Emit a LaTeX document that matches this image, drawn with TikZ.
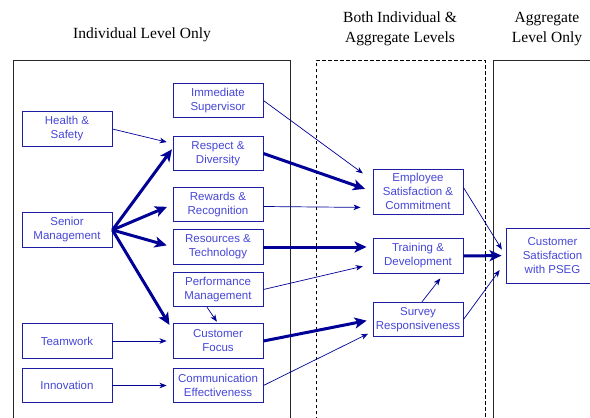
\documentclass[tikz,border=0pt]{standalone}
\usepackage{fontspec}
\setmainfont{Liberation Sans}
\newfontfamily\hdrfont{Liberation Serif}
\usetikzlibrary{arrows.meta,calc}
\definecolor{boxline}{RGB}{30,30,165}
\definecolor{boxtext}{RGB}{70,70,215}
\definecolor{arrowc}{RGB}{0,0,150}
\definecolor{framec}{RGB}{40,40,40}
\tikzset{
  factor/.style={draw=boxline, line width=0.9pt, rectangle, minimum width=90pt, minimum height=34.5pt,
    inner sep=0pt, align=center, text=boxtext, font=\fontsize{11.5}{14}\selectfont},
  header/.style={align=center, font=\hdrfont\fontsize{15.5}{19.5}\selectfont, text=black, inner sep=0pt},
  thinarrow/.style={draw=arrowc, line width=0.7pt, -{Stealth[length=7pt,width=5.5pt,inset=2pt]}},
  thickarrow/.style={draw=arrowc, line width=3pt, -{Stealth[length=12pt,width=11pt,inset=3pt]}},
  solidframe/.style={draw=framec, line width=0.8pt},
  dashframe/.style={draw=black, line width=0.8pt, dash pattern=on 3.5pt off 2.5pt}
}
\begin{document}
\begin{tikzpicture}[x=1pt,y=-1pt]
\useasboundingbox (0,0) rectangle (590,418);
% frames
\draw[solidframe] (13,420) -- (13,60) -- (290,60) -- (290,420);
\draw[dashframe] (316,420) -- (316,60) -- (485,60) -- (485,420);
\draw[solidframe] (493,420) -- (493,60) -- (592,60);
% headers
\node[header] (h1) at (142,35) {Individual Level Only};
\node[header] (h2) at (400,29) {Both Individual \&\\Aggregate Levels};
\node[header] (h3) at (547,29) {Aggregate\\Level Only};
% left column
\node[factor] (hs) at (67,129) {Health \&\\Safety};
\node[factor] (sm) at (67,230) {Senior\\Management};
\node[factor] (tw) at (67,341) {Teamwork};
\node[factor] (in) at (67,385.5) {Innovation};
% middle column
\node[factor] (is) at (218,100.5) {Immediate\\Supervisor};
\node[factor] (rd) at (218,153.5) {Respect \&\\Diversity};
\node[factor] (rr) at (218,204.5) {Rewards \&\\Recognition};
\node[factor] (rt) at (218,247) {Resources \&\\Technology};
\node[factor] (pm) at (218,289.5) {Performance\\Management};
\node[factor] (cf) at (218,341) {Customer\\Focus};
\node[factor] (ce) at (218,385.5) {Communication\\Effectiveness};
% both levels column
\node[factor, minimum height=45pt] (es) at (418,191.5) {Employee\\Satisfaction \&\\Commitment};
\node[factor] (td) at (418,256) {Training \&\\Development};
\node[factor] (sr) at (418,319.5) {Survey\\Responsiveness};
% aggregate
\node[factor, minimum width=93pt, minimum height=55pt] (cs) at (552.5,255.5) {Customer\\Satisfaction\\with PSEG};
% thin arrows
\draw[thinarrow, shorten >=6pt] (hs.east) -- ([yshift=10pt]rd.west);
\draw[thinarrow, shorten >=12pt] (is.east) -- ([yshift=11pt]es.west);
\draw[thinarrow, shorten >=12pt] ([yshift=-2pt]rr.east) -- ([yshift=-16pt]es.west);
\draw[thinarrow, shorten >=10pt] (pm.east) -- ([yshift=-8pt]td.west);
\draw[thinarrow, shorten >=2pt] ([xshift=-11pt]pm.south) -- (cf.north);
\draw[thinarrow, shorten >=6pt] (tw.east) -- (cf.west);
\draw[thinarrow, shorten >=6pt] (in.east) -- (ce.west);
\draw[thinarrow, shorten >=5pt] (ce.east) -- ([yshift=-12pt]sr.west);
\draw[thinarrow, shorten >=7pt] ([yshift=4pt]es.east) -- (cs.west);
\draw[thinarrow, shorten >=10pt] (sr.east) -- ([yshift=-6.5pt]cs.west);
\draw[thinarrow, shorten >=6pt] ([xshift=4pt]sr.north) -- ([xshift=26pt]td.south);
% thick arrows
\draw[thickarrow, shorten >=1pt] (sm.east) -- ([yshift=5pt]rd.west);
\draw[thickarrow, shorten >=6pt] (sm.east) -- (rr.west);
\draw[thickarrow, shorten >=6pt] (sm.east) -- (rt.west);
\draw[thickarrow, shorten >=6pt] (sm.east) -- ([yshift=11pt]cf.west);
\draw[thickarrow, shorten >=8pt] (rd.east) -- (es.west);
\draw[thickarrow, shorten >=6pt] (rt.east) -- ([yshift=9pt]td.west);
\draw[thickarrow, shorten >=6pt] (cf.east) -- (sr.west);
\draw[thickarrow, shorten >=4pt] (td.east) -- (cs.west);
\end{tikzpicture}
\end{document}
